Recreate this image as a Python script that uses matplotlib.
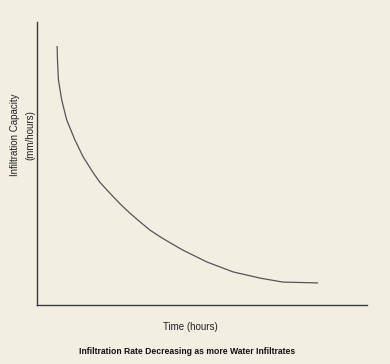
import matplotlib
matplotlib.use("Agg")
import matplotlib.pyplot as plt

# =========================
# Data
# =========================
time_hours = [0.61, 0.62, 0.65, 0.75, 0.90, 1.15, 1.40, 1.71, 1.91, 2.21,
              2.52, 2.82, 3.12, 3.42, 3.73, 4.03, 4.42, 5.15, 5.94, 6.76,
              7.45, 8.52]
capacity = [9.15, 8.66, 7.95, 7.24, 6.54, 5.83, 5.23, 4.66, 4.33, 3.95,
            3.57, 3.24, 2.94, 2.65, 2.41, 2.20, 1.94, 1.52, 1.17, 0.95,
            0.81, 0.78]

BG = "#F2EEE2"
FONT = ["Liberation Sans Narrow", "Liberation Sans", "DejaVu Sans"]

fig = plt.figure(figsize=(3.9, 3.64), dpi=100, facecolor=BG)
ax = fig.add_axes([37 / 390, 59 / 364, 330 / 390, 283 / 364], facecolor=BG)

ax.plot(time_hours, capacity, color="#555555", linewidth=0.9,
        solid_joinstyle="round", solid_capstyle="butt")

ax.set_xlim(0, 10)
ax.set_ylim(0, 10)
ax.set_xticks([])
ax.set_yticks([])
for s in ["top", "right"]:
    ax.spines[s].set_visible(False)
for s in ["left", "bottom"]:
    ax.spines[s].set_color("#3a3a3a")
    ax.spines[s].set_linewidth(1.0)

fig.text(15 / 390, 1 - 135 / 364, "Infiltration Capacity", rotation=90,
         ha="center", va="center", fontsize=7, family=FONT, color="#222222")
fig.text(30 / 390, 1 - 135 / 364, "(mm/hours)", rotation=90,
         ha="center", va="center", fontsize=7, family=FONT, color="#222222")
fig.text(190 / 390, 1 - 327 / 364, "Time (hours)", ha="center", va="center",
         fontsize=7, family=FONT, color="#222222")
fig.text(187 / 390, 1 - 352 / 364, "Infiltration Rate Decreasing as more Water Infiltrates",
         ha="center", va="center", fontsize=6.2, fontweight="bold", family=FONT,
         color="#111111")

fig.savefig("out.png", dpi=100, facecolor=BG)
